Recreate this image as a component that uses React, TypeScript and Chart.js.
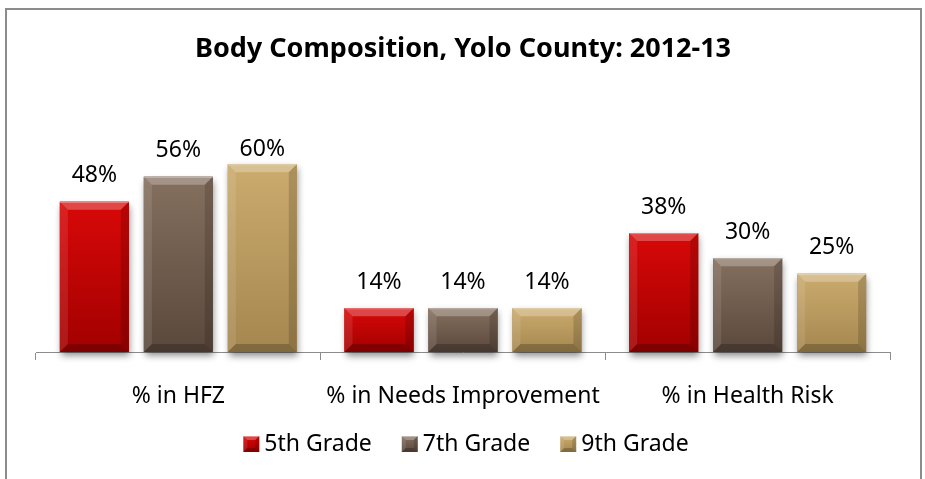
import React, { useEffect, useRef } from 'react';
import { Chart, registerables } from 'chart.js';

Chart.register(...registerables);

const TITLE = 'Body Composition, Yolo County: 2012-13';
const categories = ['% in HFZ', '% in Needs Improvement', '% in Health Risk'];
const seriesNames = ['5th Grade', '7th Grade', '9th Grade'];
const grade5 = [48, 14, 38];
const grade7 = [56, 14, 30];
const grade9 = [60, 14, 25];
const Y_MAX = 70;

const FONT = '"Noto Sans", "DejaVu Sans", sans-serif';

const palette = [
  { base: '#C00000', top: '#D80808', bottom: '#A20000' },
  { base: '#705C4E', top: '#85705F', bottom: '#5A483C' },
  { base: '#B89A60', top: '#CBAB6E', bottom: '#A5874F' },
];

function drawBevel(ctx: CanvasRenderingContext2D, left: number, top: number, w: number, h: number, colors: { top: string; bottom: string }, b: number) {
  const g = ctx.createLinearGradient(0, top, 0, top + h);
  g.addColorStop(0, colors.top);
  g.addColorStop(1, colors.bottom);
  ctx.fillStyle = g;
  ctx.fillRect(left, top, w, h);
  const bb = Math.min(b, w / 2, h / 2);
  const right = left + w;
  const bottom = top + h;
  ctx.beginPath();
  ctx.moveTo(left, top);
  ctx.lineTo(right, top);
  ctx.lineTo(right - bb, top + bb);
  ctx.lineTo(left + bb, top + bb);
  ctx.closePath();
  ctx.fillStyle = 'rgba(255,255,255,0.26)';
  ctx.fill();
  ctx.beginPath();
  ctx.moveTo(left, top);
  ctx.lineTo(left + bb, top + bb);
  ctx.lineTo(left + bb, bottom - bb);
  ctx.lineTo(left, bottom);
  ctx.closePath();
  ctx.fillStyle = 'rgba(255,255,255,0.10)';
  ctx.fill();
  ctx.beginPath();
  ctx.moveTo(right, top);
  ctx.lineTo(right - bb, top + bb);
  ctx.lineTo(right - bb, bottom - bb);
  ctx.lineTo(right, bottom);
  ctx.closePath();
  ctx.fillStyle = 'rgba(0,0,0,0.15)';
  ctx.fill();
  ctx.beginPath();
  ctx.moveTo(left, bottom);
  ctx.lineTo(right, bottom);
  ctx.lineTo(right - bb, bottom - bb);
  ctx.lineTo(left + bb, bottom - bb);
  ctx.closePath();
  ctx.fillStyle = 'rgba(0,0,0,0.22)';
  ctx.fill();
  ctx.fillStyle = 'rgba(255,255,255,0.35)';
  ctx.fillRect(left, top, w, 1);
}

const barEffects = {
  id: 'barEffects',
  beforeDatasetsDraw(chart: any) {
    const ctx = chart.ctx as CanvasRenderingContext2D;
    chart.data.datasets.forEach((ds: any, di: number) => {
      const meta = chart.getDatasetMeta(di);
      if (meta.hidden) return;
      meta.data.forEach((el: any) => {
        const { x, y, base, width } = el.getProps(['x', 'y', 'base', 'width'], true);
        ctx.save();
        ctx.shadowColor = 'rgba(0,0,0,0.45)';
        ctx.shadowBlur = 7;
        ctx.shadowOffsetX = 1;
        ctx.shadowOffsetY = 4;
        ctx.fillStyle = palette[di].bottom;
        ctx.fillRect(x - width / 2, y, width, base - y);
        ctx.restore();
      });
    });
  },
  afterDatasetsDraw(chart: any) {
    const ctx = chart.ctx as CanvasRenderingContext2D;
    const areaTop = chart.chartArea.top;
    chart.data.datasets.forEach((ds: any, di: number) => {
      const meta = chart.getDatasetMeta(di);
      if (meta.hidden) return;
      meta.data.forEach((el: any, i: number) => {
        const { x, y, base, width } = el.getProps(['x', 'y', 'base', 'width'], true);
        ctx.save();
        drawBevel(ctx, x - width / 2, y, width, base - y, palette[di], 8);
        ctx.fillStyle = '#000';
        ctx.font = `23px ${FONT}`;
        ctx.textAlign = 'center';
        ctx.textBaseline = 'middle';
        const ly = Math.max(y - 26, areaTop + 16);
        ctx.fillText(`${ds.data[i]}%`, x, ly);
        ctx.restore();
      });
    });
  },
};

const customLegend = {
  id: 'customLegend',
  afterDraw(chart: any) {
    const ctx = chart.ctx as CanvasRenderingContext2D;
    const area = chart.chartArea;
    ctx.save();
    ctx.font = `23px ${FONT}`;
    ctx.textBaseline = 'middle';
    ctx.textAlign = 'left';
    const box = 16;
    const gap = 5;
    const spacing = 30;
    const widths = chart.data.datasets.map((d: any) => box + gap + ctx.measureText(d.label).width);
    const total = widths.reduce((a: number, b: number) => a + b, 0) + spacing * (widths.length - 1);
    let cx = (area.left + area.right) / 2 - total / 2 + 3;
    const cy = area.bottom + 92;
    chart.data.datasets.forEach((d: any, i: number) => {
      drawBevel(ctx, cx, cy - box / 2, box, box, palette[i], 4);
      ctx.fillStyle = '#000';
      ctx.fillText(d.label, cx + box + gap, cy);
      cx += widths[i] + spacing;
    });
    ctx.restore();
  },
};

export default function App() {
  const ref = useRef<HTMLCanvasElement | null>(null);
  useEffect(() => {
    if (!ref.current) return;
    const series = [grade5, grade7, grade9];
    const chart = new Chart(ref.current, {
      type: 'bar',
      data: {
        labels: categories,
        datasets: series.map((s, i) => ({
          label: seriesNames[i],
          data: s,
          backgroundColor: palette[i].base,
          borderWidth: 0,
          categoryPercentage: 0.885,
          barPercentage: 0.821,
        })),
      },
      options: {
        responsive: false,
        animation: false,
        events: [],
        layout: { padding: { left: 36, right: 35, top: 0, bottom: 68 } },
        plugins: {
          legend: { display: false },
          tooltip: { enabled: false },
          title: {
            display: true,
            text: TITLE,
            color: '#000',
            font: { family: FONT, size: 27, weight: 'bold' },
            padding: { top: 33, bottom: 67.6 },
          },
        },
        scales: {
          x: {
            grid: {
              display: true,
              offset: true,
              drawOnChartArea: false,
              drawTicks: true,
              tickLength: 8,
              color: '#8c8c8c',
            },
            border: { display: true, color: '#8c8c8c', width: 1 },
            ticks: {
              color: '#000',
              padding: 23,
              font: { family: FONT, size: 23 },
              maxRotation: 0,
            },
            afterFit(scale: any) {
              scale.height = 59;
            },
          },
          y: {
            display: false,
            min: 0,
            max: Y_MAX,
          },
        },
      },
      plugins: [barEffects, customLegend],
    });
    return () => chart.destroy();
  }, []);

  return (
    <div style={{ position: 'fixed', left: 0, top: 0, width: 925, height: 479, background: '#fff' }}>
      <canvas ref={ref} width={925} height={479} style={{ display: 'block' }} />
      <div
        style={{
          position: 'absolute',
          left: 5,
          top: 8,
          width: 917,
          height: 490,
          border: '2px solid #8c8c8c',
          boxSizing: 'border-box',
          pointerEvents: 'none',
        }}
      />
    </div>
  );
}
